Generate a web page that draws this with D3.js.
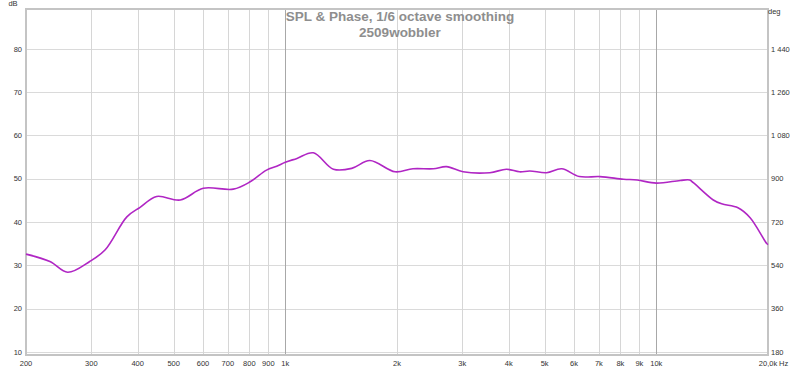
<!DOCTYPE html>
<html><head><meta charset="utf-8">
<script src="https://cdn.jsdelivr.net/npm/d3@7"></script>
<style>body{margin:0;background:#fff}svg{display:block}</style>
</head><body>
<svg id="c" width="800" height="370"></svg>
<script>
const freqs = [200,232,259,297,327,374,406,450,521,601,724,804,890,948,1000,1075,1190,1348,1510,1690,1976,2208,2506,2720,3014,3560,3945,4280,4560,5060,5560,6200,7050,8160,8880,10000,11600,12300,12580,14240,15000,16600,17900,19820,20000];
const spl   = [32.6,30.9,28.4,30.9,33.6,41.2,43.4,45.9,45.1,47.8,47.6,49.3,52.0,52.9,53.8,54.7,56.0,52.2,52.4,54.2,51.6,52.3,52.3,52.8,51.6,51.4,52.2,51.6,51.8,51.4,52.3,50.5,50.5,49.9,49.7,49.0,49.6,49.7,49.1,45.1,44.2,43.3,41.0,35.1,34.8];
const yTicks = [10,20,30,40,50,60,70,80];
const degTicks = ["180","360","540","720","900","1 080","1 260","1 440"];
const xTicks = [200,300,400,500,600,700,800,900,1000,2000,3000,4000,5000,6000,7000,8000,9000,10000,20000];
const xTickLabels = ["200","300","400","500","600","700","800","900","1k","2k","3k","4k","5k","6k","7k","8k","9k","10k","20,0k"];
const majorFreqs = [1000,10000];
const titleLines = ["SPL & Phase, 1/6 octave smoothing","2509wobbler"];

const svg = d3.select("#c");
const L=26,R=768,T=9,B=355;
const x = d3.scaleLog().domain([200,20000]).range([L,R]);
const y = d3.scaleLinear().domain([9.3,89.2]).range([B,T]);
const font = "'Liberation Sans', Arial, sans-serif";

// grid
svg.append("g").selectAll("line").data(yTicks).join("line")
  .attr("x1",L).attr("x2",R).attr("y1",d=>Math.round(y(d))+0.5).attr("y2",d=>Math.round(y(d))+0.5)
  .attr("stroke","#dadada").attr("stroke-width",1);
svg.append("g").selectAll("line").data(xTicks.filter(d=>d>200&&d<20000)).join("line")
  .attr("y1",T).attr("y2",B).attr("x1",d=>Math.round(x(d))+0.5).attr("x2",d=>Math.round(x(d))+0.5)
  .attr("stroke",d=>majorFreqs.includes(d)?"#a8a8a8":"#d6d6d6").attr("stroke-width",1);

// border
svg.append("rect").attr("x",L).attr("y",T).attr("width",R-L).attr("height",B-T)
  .attr("fill","none").attr("stroke","#c4c4c4").attr("stroke-width",2);

// title
svg.append("g").selectAll("text").data(titleLines).join("text")
  .attr("x",400).attr("y",(d,i)=>21+i*15.5).attr("text-anchor","middle")
  .attr("font-family",font).attr("font-size",13.5).attr("font-weight","bold")
  .attr("fill","#8e8e8e").text(d=>d);

// curve
const pts = freqs.map((f,i)=>[f,spl[i]]);
svg.append("path").datum(pts)
  .attr("d",d3.line().x(d=>x(d[0])).y(d=>y(d[1])).curve(d3.curveCatmullRom.alpha(0.5)))
  .attr("fill","none").attr("stroke","#b026c4").attr("stroke-width",1.6);

// axes labels
const lab = {"font-family":font,"font-size":7.5,"fill":"#333"};
function sty(s){Object.entries(lab).forEach(([k,v])=>s.attr(k,v));return s;}
sty(svg.append("g").selectAll("text").data(yTicks).join("text")
  .attr("x",22).attr("y",d=>y(d)+2.7).attr("text-anchor","end").text(d=>d));
sty(svg.append("g").selectAll("text").data(yTicks).join("text")
  .attr("x",771).attr("y",d=>y(d)+2.7).attr("text-anchor","start").text((d,i)=>degTicks[i]));
sty(svg.append("g").selectAll("text").data(xTicks).join("text")
  .attr("x",d=>x(d)).attr("y",366).attr("text-anchor","middle").text((d,i)=>xTickLabels[i]));
sty(svg.append("text").attr("x",x(20000)+11).attr("y",366).text("Hz"));
sty(svg.append("text").attr("x",13).attr("y",6).attr("text-anchor","middle").text("dB"));
sty(svg.append("text").attr("x",768).attr("y",14).text("deg"));
</script>
</body></html>
